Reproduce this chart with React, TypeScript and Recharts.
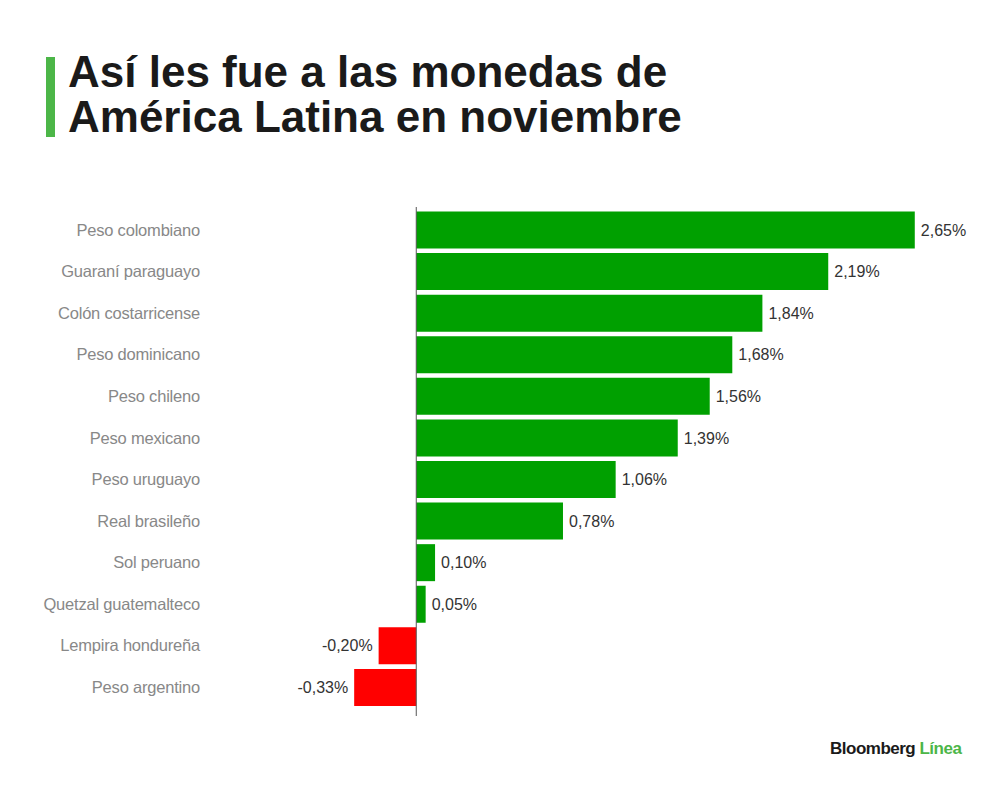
import { BarChart, Bar, XAxis, YAxis, Cell, LabelList, ReferenceLine } from "recharts";

const currencies = [
  "Peso colombiano",
  "Guaraní paraguayo",
  "Colón costarricense",
  "Peso dominicano",
  "Peso chileno",
  "Peso mexicano",
  "Peso uruguayo",
  "Real brasileño",
  "Sol peruano",
  "Quetzal guatemalteco",
  "Lempira hondureña",
  "Peso argentino",
];
const changes = [2.65, 2.19, 1.84, 1.68, 1.56, 1.39, 1.06, 0.78, 0.1, 0.05, -0.2, -0.33];

const data = currencies.map((name, i) => ({ name, value: changes[i] }));

const fmt = (v: number) => `${v.toFixed(2).replace(".", ",")}%`;

const ValueLabel = (props: any) => {
  const { x, y, width, height, value } = props;
  const neg = value < 0;
  const end = x + width;
  return (
    <text
      x={neg ? Math.min(x, end) - 6 : Math.max(x, end) + 6}
      y={y + height / 2}
      dy="0.35em"
      textAnchor={neg ? "end" : "start"}
      fontSize={16}
      fill="#333"
      fontFamily="Liberation Sans, Arial, sans-serif"
      letterSpacing={0}
    >
      {fmt(value)}
    </text>
  );
};

export default function App() {
  return (
    <div
      style={{
        position: "absolute",
        left: 0,
        top: 0,
        width: 1000,
        height: 790,
        background: "#fff",
        fontFamily: "Liberation Sans, Arial, sans-serif",
      }}
    >
      <div
        style={{
          position: "absolute",
          left: 46,
          top: 57,
          width: 9,
          height: 80,
          background: "#4cb648",
        }}
      />
      <div
        style={{
          position: "absolute",
          left: 68,
          top: 49,
          fontSize: 44,
          fontWeight: 700,
          lineHeight: "45px",
          letterSpacing: 0,
          color: "#1a1a1a",
        }}
      >
        Así les fue a las monedas de
        <br />
        América Latina en noviembre
      </div>
      <BarChart
        width={1000}
        height={790}
        data={data}
        layout="vertical"
        margin={{ top: 207, right: 57, left: 0, bottom: 74 }}
        barCategoryGap="6%"
      >
        <XAxis type="number" domain={[-0.4, 2.8]} hide />
        <YAxis
          type="category"
          dataKey="name"
          width={341}
          axisLine={false}
          tickLine={false}
          tickSize={0}
          tickMargin={141}
          padding={{ top: 2, bottom: 8 }}
          interval={0}
          tick={{
            fontSize: 16.5,
            fill: "#888",
            letterSpacing: -0.2,
            fontFamily: "Liberation Sans, Arial, sans-serif",
          }}
        />
        <Bar dataKey="value" isAnimationActive={false}>
          {data.map((d) => (
            <Cell key={d.name} fill={d.value < 0 ? "#ff0000" : "#00a000"} />
          ))}
          <LabelList dataKey="value" content={ValueLabel} />
        </Bar>
        <ReferenceLine x={0} stroke="#555" strokeWidth={1} />
      </BarChart>
      <div
        style={{
          position: "absolute",
          left: 830,
          top: 739,
          fontSize: 17,
          fontWeight: 700,
          letterSpacing: -0.5,
          color: "#1a1a1a",
        }}
      >
        Bloomberg <span style={{ color: "#4cb648" }}>Línea</span>
      </div>
    </div>
  );
}
